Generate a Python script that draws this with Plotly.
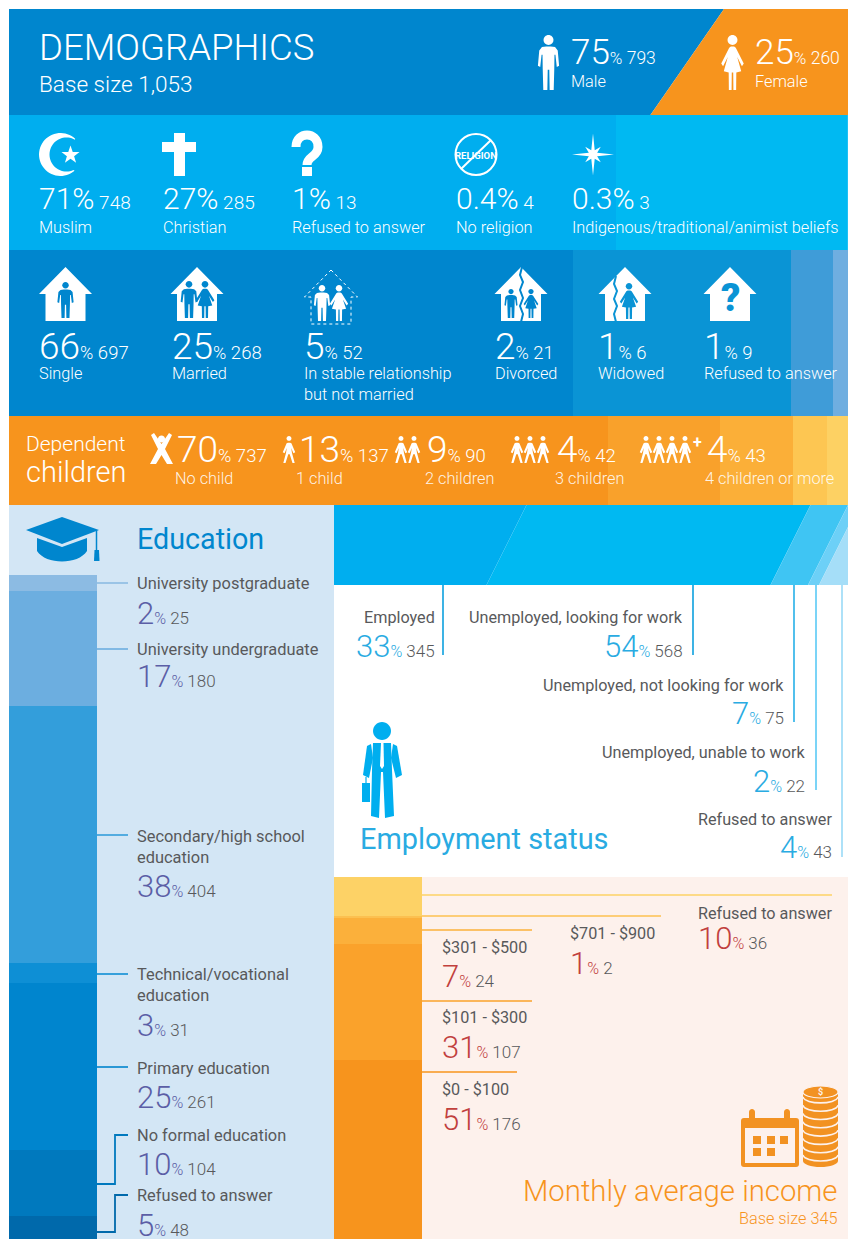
import math
import plotly.graph_objects as go

# ---------- data ----------
gender_labels = ["Male", "Female"]
gender_pct = ["75", "25"]
gender_n = [793, 260]
religion_labels = ["Muslim", "Christian", "Refused to answer", "No religion", "Indigenous/traditional/animist beliefs"]
religion_pct = ["71", "27", "1", "0.4", "0.3"]
religion_n = [748, 285, 13, 4, 3]
marital_labels = ["Single", "Married", "In stable relationship<br>but not married", "Divorced", "Widowed", "Refused to answer"]
marital_pct = ["66", "25", "5", "2", "1", "1"]
marital_n = [697, 268, 52, 21, 6, 9]
children_labels = ["No child", "1 child", "2 children", "3 children", "4 children or more"]
children_pct = ["70", "13", "9", "4", "4"]
children_n = [737, 137, 90, 42, 43]
education_labels = ["University postgraduate", "University undergraduate", "Secondary/high school<br>education",
                    "Technical/vocational<br>education", "Primary education", "No formal education", "Refused to answer"]
education_pct = ["2", "17", "38", "3", "25", "10", "5"]
education_n = [25, 180, 404, 31, 261, 104, 48]
employment_labels = ["Employed", "Unemployed, looking for work", "Unemployed, not looking for work",
                     "Unemployed, unable to work", "Refused to answer"]
employment_pct = ["33", "54", "7", "2", "4"]
employment_n = [345, 568, 75, 22, 43]
income_labels = ["Refused to answer", "$701 - $900", "$301 - $500", "$101 - $300", "$0 - $100"]
income_pct = ["10", "1", "7", "31", "51"]
income_n = [36, 2, 24, 107, 176]

# ---------- styles ----------
W, H = 848, 1239
FONT = "Roboto"
WHITE = "#FFFFFF"
BLUE = "#0086CE"
CYAN = "#00AEEF"
ORANGE = "#F7941D"
GREY = "#58595B"
INDIGO = "#5B5EA6"
SKY = "#29ABE2"
RED = "#C1403D"
PANEL_WARM = "#FDF1EC"
religion_colors = ["#00AEEF", "#00B9F2", "#1FC0F4"]
marital_colors = ["#0086CE", "#0A94D5", "#3F9CD8", "#6FAEE0", "#8CBBE3", "#8CBBE3"]
children_colors = ["#F7941D", "#F9A12B", "#FBAF38", "#FDC652", "#FDD163"]
education_colors = ["#8CBBE3", "#6CAEE0", "#339EDB", "#0E8FD5", "#0085CE", "#0079BE", "#0069AB"]
employment_colors = ["#00AEEF", "#00B9F2", "#3FC5F3", "#6DD0F7", "#A5DEF8"]
income_colors = ["#FDD266", "#FCC050", "#FBB03B", "#FAA22B", "#F7941D"]


def xdom(a, b):
    return [a / W, b / W]


def ydom(t, b):
    return [1 - b / H, 1 - t / H]


fig = go.Figure()
layout_axes = {}
ax_id = [1]


def new_axes(box, xr, yr, xtype="linear", ytype="linear"):
    ax_id[0] += 1
    n = ax_id[0]
    layout_axes[f"xaxis{n}"] = dict(domain=xdom(box[0], box[1]), range=xr, visible=False, fixedrange=True,
                                    type=xtype, anchor=f"y{n}")
    layout_axes[f"yaxis{n}"] = dict(domain=ydom(box[2], box[3]), range=yr, visible=False, fixedrange=True,
                                    type=ytype, anchor=f"x{n}")
    return f"x{n}", f"y{n}"


# overlay axis in page pixels
fig.add_trace(go.Scatter(x=[0], y=[0], mode="none", hoverinfo="skip", showlegend=False))


def hbar(values, colors, box, xmax):
    xa, ya = new_axes(box, [0, xmax], [-0.5, 0.5], ytype="category")
    for v, c in zip(values, colors):
        fig.add_trace(go.Bar(x=[v], y=["all"], orientation="h", marker=dict(color=c, line=dict(width=0)),
                             xaxis=xa, yaxis=ya, hoverinfo="skip", showlegend=False))


def vbar(values, colors, box, ymax):
    xa, ya = new_axes(box, [-0.5, 0.5], [ymax, 0], xtype="category")
    for v, c in zip(values, colors):
        fig.add_trace(go.Bar(x=["all"], y=[v], marker=dict(color=c, line=dict(width=0)),
                             xaxis=xa, yaxis=ya, hoverinfo="skip", showlegend=False))


def slanted(values, colors, box, xmax, slant):
    xa, ya = new_axes(box, [0, xmax], [0, 1])
    total = 0
    for v, c in zip(values, colors):
        left = total
        total += v
        lt = left + slant if left > 0 else -slant * 2
        lb = left - slant if left > 0 else -slant * 2
        fig.add_trace(go.Scatter(x=[lb, lt, total + slant * 3 if c == colors[-1] else total + slant,
                                    total + slant * 3 if c == colors[-1] else total - slant, lb],
                                 y=[0, 1, 1, 0, 0], mode="lines", fill="toself", fillcolor=c,
                                 line=dict(width=0, color=c), xaxis=xa, yaxis=ya,
                                 hoverinfo="skip", showlegend=False))


slanted(gender_n, [BLUE, ORANGE], (9, 848, 9, 115), 981, 43)
hbar(religion_n[:3], religion_colors, (9, 848, 115, 250), 1034)
hbar(marital_n, marital_colors, (9, 848, 250, 416), 1036)
hbar(children_n, children_colors, (9, 848, 416, 505), 1032)
vbar(education_n, education_colors, (9, 97, 575, 1239), 1041)
slanted(employment_n, employment_colors, (334, 848, 505, 585), 1028, 40)
vbar(income_n, income_colors, (334, 422, 877, 1239), 334)

shapes = []
annots = []


def add_path(path, fill=None, line=None, lw=0, layer="above", dash=None):
    ln = dict(width=lw, color=line or "rgba(0,0,0,0)")
    if dash:
        ln["dash"] = dash
    shapes.append(dict(type="path", path=path, xref="x", yref="y", fillcolor=fill or "rgba(0,0,0,0)",
                       line=ln, layer=layer))


def poly(pts, close=True):
    return "M" + " L".join(f"{x:.2f},{y:.2f}" for x, y in pts) + (" Z" if close else "")


def circle(cx, cy, r, ry=None):
    ry = ry if ry is not None else r
    k = 0.5523
    return (f"M{cx - r:.2f},{cy:.2f} C{cx - r:.2f},{cy - k * ry:.2f} {cx - k * r:.2f},{cy - ry:.2f} {cx:.2f},{cy - ry:.2f} "
            f"C{cx + k * r:.2f},{cy - ry:.2f} {cx + r:.2f},{cy - k * ry:.2f} {cx + r:.2f},{cy:.2f} "
            f"C{cx + r:.2f},{cy + k * ry:.2f} {cx + k * r:.2f},{cy + ry:.2f} {cx:.2f},{cy + ry:.2f} "
            f"C{cx - k * r:.2f},{cy + ry:.2f} {cx - r:.2f},{cy + k * ry:.2f} {cx - r:.2f},{cy:.2f} Z")


def mirror(cx, y0, h, half, sx=1.0):
    right = [(cx + a * h * sx, y0 + b * h) for a, b in half]
    left = [(cx - a * h * sx, y0 + b * h) for a, b in reversed(half)]
    return right + left


MALE = [(.06, .21), (.17, .22), (.24, .28), (.275, .56), (.215, .58), (.18, .36), (.155, .36), (.15, .62),
        (.135, 1.0), (.03, 1.0), (.02, .63)]
FEMALE = [(.045, .21), (.09, .23), (.31, .52), (.26, .57), (.13, .40), (.24, .66), (.105, .68), (.10, 1.0),
          (.025, 1.0), (.02, .68)]
KID = [(.06, .25), (.13, .27), (.34, .60), (.24, .64), (.12, .44), (.16, .62), (.31, 1.0), (.19, 1.0), (.04, .68)]


def person(cx, y0, h, kind, color, sx=0.82):
    shape = {"m": MALE, "f": FEMALE, "k": KID}[kind]
    add_path(circle(cx, y0 + .09 * h, .09 * h), fill=color)
    add_path(poly(mirror(cx, y0, h, shape, sx)), fill=color)


def house(cx, top, fill=WHITE, outline=False):
    pts = [(cx, top), (cx + 26.5, top + 27), (cx + 20, top + 27), (cx + 20, top + 54), (cx - 20, top + 54),
           (cx - 20, top + 27), (cx - 26.5, top + 27)]
    if outline:
        add_path(poly(pts), line=WHITE, lw=1, dash="dot")
    else:
        add_path(poly(pts), fill=fill)


def text(x, y, t, size=16.3, color=WHITE, anchor="left", weight=400):
    annots.append(dict(x=x, y=y, xref="x", yref="y", text=t, showarrow=False, xanchor=anchor, yanchor="middle",
                       align=anchor, borderpad=0, borderwidth=0,
                       font=dict(family=FONT, size=size, color=color, weight=weight)))


def stat(x, y, big, n, bs, ps, ns, color=WHITE, ncolor=None, anchor="left", pct_big=False, gap=" "):
    ncolor = ncolor or color
    p = bs if pct_big else ps
    t = (f'<span style="font-size:{bs}px;font-weight:300;color:{color}">{big}</span>'
         f'<span style="font-size:{p}px;font-weight:300;color:{color}">%</span>'
         f'<span style="font-size:{ns}px;font-weight:300;color:{ncolor}">{gap}{n}</span>')
    text(x, y, t, bs, color, anchor)


def hline(x0, x1, y, color, w=1.6):
    add_path(poly([(x0, y), (x1, y)], close=False), line=color, lw=w)


# ---------- panels ----------
add_path(poly([(9, 505), (334, 505), (334, 1239), (9, 1239)]), fill="#D3E6F5", layer="below")
add_path(poly([(422, 877), (848, 877), (848, 1239), (422, 1239)]), fill=PANEL_WARM, layer="below")

# ---------- header ----------
text(39, 47, "DEMOGRAPHICS", 36.5, weight=300)
text(39, 84, "Base size 1,053", 22.6, weight=300)
for i, (ix, tx, kind, sx) in enumerate([(548.5, 571, "m", .7), (732.5, 755, "f", .66)]):
    person(ix, 35, 55, kind, WHITE, sx)
    stat(tx, 52, gender_pct[i], gender_n[i], 35, 17, 17.5)
    text(tx, 81, gender_labels[i], 16.3, weight=300)

# ---------- religion ----------
for i, x in enumerate([39, 163, 292, 456, 572]):
    stat(x, 198, religion_pct[i], religion_n[i], 30, 30, 19, pct_big=True)
    text(x, 227, religion_labels[i], 16.3, weight=300)
# crescent + star
outer = [(60.5 + 21.5 * math.cos(math.radians(a)), 154.5 + 21.5 * math.sin(math.radians(a))) for a in range(-47, -313, -6)]
inner = [(66.5 + 17 * math.cos(math.radians(a)), 154.5 + 17 * math.sin(math.radians(a))) for a in range(-60, -300, -6)]
add_path(poly(outer + inner[::-1]), fill=WHITE)
star = [(70.5 + (9.5 if k % 2 == 0 else 3.8) * math.sin(math.radians(36 * k)),
         155 - (9.5 if k % 2 == 0 else 3.8) * math.cos(math.radians(36 * k))) for k in range(10)]
add_path(poly(star), fill=WHITE)
# cross
add_path(poly([(174, 133), (185, 133), (185, 142), (196, 142), (196, 152), (185, 152), (185, 176), (174, 176),
               (174, 152), (162, 152), (162, 142), (174, 142)]), fill=WHITE)
# question-mark icon
add_path("M296,147 C296,131 318,131 318,147 C318,157 307,156 307,165", line=WHITE, lw=9)
add_path(poly([(302, 167), (312, 167), (312, 176), (302, 176)]), fill=WHITE)
# no religion
add_path(circle(476, 154.5, 20.5), line=WHITE, lw=2)
add_path(poly([(461, 169), (491, 140)], close=False), line=WHITE, lw=2)
text(476, 155, "<b>RELIGION</b>", 9.5, anchor="center")
# sparkle
sp = []
for k in range(16):
    r = [21, 4.5, 11, 4.5][k % 4]
    a = math.radians(22.5 * k)
    sp.append((593 + r * math.sin(a), 154.5 - r * math.cos(a)))
add_path(poly(sp), fill=WHITE)

# ---------- marital ----------
mx = [39, 172, 304, 495, 598, 704]
for i, x in enumerate(mx):
    stat(x, 346, marital_pct[i], marital_n[i], 37, 18, 18.5)
ly = [373, 373, 384, 373, 373, 373]
for i, x in enumerate(mx):
    text(x, ly[i], marital_labels[i], 16.3, weight=300)
house(65.5, 267)
person(65.5, 282, 36, "m", BLUE)
house(197, 267)
person(189, 281, 37, "m", BLUE)
person(205, 281, 37, "f", BLUE)
house(331, 270, outline=True)
person(322, 285, 36, "m", WHITE)
person(339, 285, 36, "f", WHITE)
house(521, 267)
person(511, 289, 29, "m", BLUE)
person(531, 289, 29, "f", BLUE)
add_path(poly([(522, 267), (520, 275), (523, 282), (520, 290), (523, 298), (520, 306), (523, 314), (521, 322)], close=False),
         line=BLUE, lw=2)
house(625, 267)
person(629, 283, 36, "f", "#0A94D5")
add_path(poly([(616, 276), (614, 284), (617, 291), (614, 299), (617, 306), (614, 314), (616, 322)], close=False),
         line="#0A94D5", lw=2)
house(730, 267)
text(730, 298, "?", 38, color="#0A94D5", anchor="center", weight=900)

# ---------- children ----------
text(26, 444, "Dependent", 21, weight=300)
text(26, 472, "children", 29, weight=300)
cx = [177, 299, 427, 557, 707]
for i, x in enumerate(cx):
    stat(x, 449, children_pct[i], children_n[i], 37, 18, 18.5)
lx = [175, 296, 425, 555, 705]
for i, x in enumerate(lx):
    text(x, 478, children_labels[i], 16.3, color="rgba(255,255,255,0.9)", weight=300)
# no-child figure
add_path(circle(161.5, 439, 3.6), fill=WHITE)
add_path(poly([(151, 435), (154, 433), (161.5, 444), (169, 433), (172, 435), (165, 449), (173, 464), (167, 464),
               (161.5, 455), (156, 464), (150, 464), (158, 449)]), fill=WHITE)
KS = 0.68
person(289, 436, 27, "k", WHITE, KS)
for c in [401, 414]:
    person(c, 436, 27, "k", WHITE, KS)
for c in [517, 530, 543]:
    person(c, 436, 27, "k", WHITE, KS)
for c in [646, 659, 672, 685]:
    person(c, 436, 27, "k", WHITE, KS)
text(697, 442, "+", 16, anchor="center", weight=700)

# ---------- education ----------
text(137, 539, "Education", 28.7, color=BLUE, weight=400)
add_path(poly([(26, 530), (62, 517), (99, 530), (62, 544)]), fill=BLUE)
add_path("M37,538 L62,547 L87,538 L87,551 C78,565 46,565 37,551 Z", fill=BLUE)
add_path(poly([(96.5, 530), (96.5, 552)], close=False), line=BLUE, lw=1.5)
add_path(poly([(94.5, 550), (99, 550), (99.5, 561), (94, 561)]), fill=BLUE)
el = [583, 649, 846.5, 985, 1068, 1135, 1195]
es = [614, 677, 887, 1026, 1098, 1165, 1226]
for i in range(7):
    text(137, el[i], education_labels[i], 16.4, color=GREY)
    stat(137, es[i] - 1, education_pct[i], education_n[i], 31, 16, 17, color=INDIGO, ncolor=GREY)
for y, c in [(583, education_colors[0]), (649, education_colors[1]), (835, education_colors[2]),
             (974, education_colors[3]), (1067, education_colors[4])]:
    hline(97, 128, y, c)
add_path(poly([(97, 1184), (115, 1184), (115, 1135), (128, 1135)], close=False), line=education_colors[5], lw=1.8)
add_path(poly([(97, 1232), (115, 1232), (115, 1195), (128, 1195)], close=False), line=education_colors[6], lw=1.8)

# ---------- employment ----------
ex = [435, 683, 784, 805, 832]
ey = [617, 617, 685, 752, 819]
ev = [647, 647, 714, 782, 848]
for i in range(5):
    text(ex[i], ey[i], employment_labels[i], 16.2, color=GREY, anchor="right")
    stat(ex[i], ev[i] - 1, employment_pct[i], employment_n[i], 31, 16, 17, color=SKY, ncolor=GREY, anchor="right")
for x, y1, c in [(443, 655, SKY), (693, 655, SKY), (794, 722, "#3FB9EA"), (816, 790, "#6DD0F7"), (842, 857, "#A5DEF8")]:
    add_path(poly([(x, 585), (x, y1)], close=False), line=c, lw=1.8)
text(360, 839, "Employment status", 28.9, color=SKY)
man = CYAN
add_path(circle(382, 731, 9), fill=man)
add_path(poly([(373, 743), (391, 743), (392, 770), (394, 816), (385, 818), (383, 772), (381, 772), (379, 818),
               (371, 816), (372, 770)]), fill=man)
add_path(poly([(371, 744), (367, 746), (363, 775), (369, 778), (373, 758)]), fill=man)
add_path(poly([(393, 744), (397, 746), (402, 775), (396, 778), (391, 758)]), fill=man)
add_path(poly([(381, 743), (383.5, 743), (384, 766), (382, 769), (380, 766)]), fill=WHITE)
add_path(poly([(362, 783), (370, 783), (370, 802), (362, 802)]), fill=man)
add_path(poly([(366, 777), (366, 783)], close=False), line=man, lw=1.2)

# ---------- income ----------
ix = [698, 570, 442, 442, 442]
iy = [913, 933, 947, 1017, 1089]
iv = [939, 964, 977, 1048, 1120]
for i in range(5):
    text(ix[i], iy[i], income_labels[i], 16.2, color=GREY)
    stat(ix[i], iv[i] - 1, income_pct[i], income_n[i], 31, 16, 17, color=RED, ncolor=GREY)
for y, x, c in [(895, 832, income_colors[0]), (916, 661, income_colors[1]), (930, 532, income_colors[2]),
                (1001, 532, income_colors[3]), (1072, 517, income_colors[4])]:
    hline(422, x, y, c, 1.5)
text(838, 1191, "Monthly average income", 29.3, color=ORANGE, anchor="right", weight=300)
text(838, 1218, "Base size 345", 16.3, color=ORANGE, anchor="right", weight=300)
ic = "#F29222"
add_path("M744,1118 L796,1118 Q799,1118 799,1121 L799,1164 Q799,1167 796,1167 L744,1167 Q741,1167 741,1164 L741,1121 Q741,1118 744,1118 Z", fill=ic)
add_path(poly([(745, 1128), (795, 1128), (795, 1163), (745, 1163)]), fill=PANEL_WARM)
for px in [752, 787]:
    add_path(circle(px, 1112, 3), fill=ic)
    add_path(poly([(px - 3, 1112), (px + 3, 1112), (px + 3, 1119), (px - 3, 1119)]), fill=ic)
for sx, sy in [(753, 1136), (767, 1136), (780, 1136), (753, 1148), (767, 1148)]:
    add_path(poly([(sx, sy), (sx + 8, sy), (sx + 8, sy + 8), (sx, sy + 8)]), fill=ic)
# coin stack: one column with arcs cut in the panel colour
add_path(poly([(803, 1092), (838, 1092), (838, 1161), (803, 1161)]), fill=ic)
add_path(circle(820.5, 1161, 17.5, 6), fill=ic)
for k in range(8):
    yy = 1157 - k * 8.3
    add_path(f"M803,{yy - 2:.1f} C805,{yy + 6:.1f} 836,{yy + 6:.1f} 838,{yy - 2:.1f}", line=PANEL_WARM, lw=1.6)
add_path(circle(820.5, 1092, 17.5, 6), fill=ic, line=PANEL_WARM, lw=1.2)
text(820.5, 1092, "<b>$</b>", 9, color=PANEL_WARM, anchor="center")

fig.update_layout(
    width=W, height=H, margin=dict(l=0, r=0, t=0, b=0), paper_bgcolor=WHITE, plot_bgcolor="rgba(0,0,0,0)",
    barmode="stack", bargap=0, showlegend=False, shapes=shapes, annotations=annots,
    xaxis=dict(domain=[0, 1], range=[0, W], visible=False, fixedrange=True),
    yaxis=dict(domain=[0, 1], range=[H, 0], visible=False, fixedrange=True),
    **layout_axes)

fig.write_html("out.html", config={"displayModeBar": False},
               post_script="document.body.style.margin='0';document.body.style.overflow='hidden';")
